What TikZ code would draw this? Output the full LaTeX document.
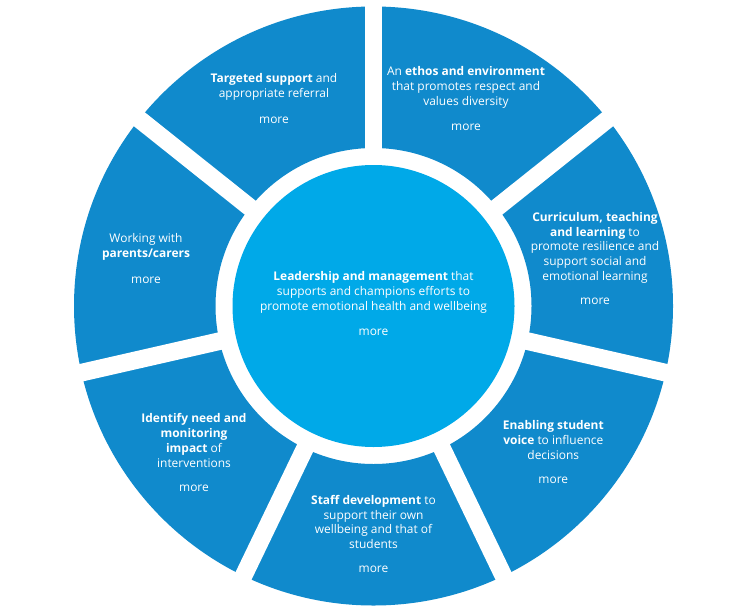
\documentclass[tikz,border=0pt]{standalone}
\usepackage{fontspec}
\setmainfont{Open Sans}
\definecolor{ringblue}{RGB}{16,138,204}
\definecolor{hubblue}{RGB}{0,169,232}
\tikzset{
  lbl/.style={text=white, align=center, font=\fontsize{11.95}{14.7}\selectfont, inner sep=0pt},
  morelbl/.style={text=white, font=\fontsize{11.95}{14.7}\selectfont, inner sep=0pt},
  gapbar/.style={white, line width=17.7pt}
}
\begin{document}
\begin{tikzpicture}[x=1pt,y=-1pt]
\fill[white] (0,0) rectangle (743,613);
\useasboundingbox (0,0) rectangle (743,613);
\coordinate (c) at (373.5,306);
% ring
\fill[ringblue,even odd rule] (c) circle (299.5) (c) circle (158);
% gaps between segments
\foreach \k in {0,...,6} {
  \draw[gapbar] (c) -- ++({-90+\k*360/7}:320);
}
% hub
\node[circle, fill=hubblue, minimum size=282pt, inner sep=0pt] (hub) at (c) {};

% labels
\node[lbl] (t1) at (274,86.8) {\textbf{Targeted support} and\\appropriate referral};
\node[morelbl] (m1) at (274,120) {more};

\node[lbl] (t2) at (466,87.4) {An \textbf{ethos and environment}\\that promotes respect and\\values diversity};
\node[morelbl] (m2) at (466,127) {more};

\node[lbl] (t3) at (595,247.7) {\textbf{Curriculum, teaching}\\\textbf{and learning} to\\promote resilience and\\support social and\\emotional learning};
\node[morelbl] (m3) at (595,301.7) {more};

\node[lbl] (t4) at (553.3,440.2) {\textbf{Enabling student}\\\textbf{voice} to influence\\decisions};
\node[morelbl] (m4) at (553.3,480) {more};

\node[lbl] (t5) at (373.5,522) {\textbf{Staff development} to\\support their own\\wellbeing and that of\\students};
\node[morelbl] (m5) at (373.5,569.3) {more};

\node[lbl] (t6) at (194,440.5) {\textbf{Identify need and}\\\textbf{monitoring}\\\textbf{impact} of\\interventions};
\node[morelbl] (m6) at (194,488.7) {more};

\node[lbl] (t7) at (146,246.8) {Working with\\\textbf{parents/carers}};
\node[morelbl] (m7) at (146,280.3) {more};

\node[lbl] (t8) at (373.5,292.5) {\textbf{Leadership and management} that\\supports and champions efforts to\\promote emotional health and wellbeing};
\node[morelbl] (m8) at (373.5,332) {more};
\end{tikzpicture}
\end{document}
